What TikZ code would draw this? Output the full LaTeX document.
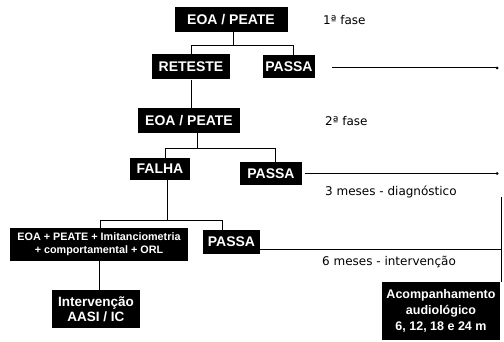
\documentclass[tikz,border=0pt]{standalone}
\usepackage{fontspec}
\setmainfont{Liberation Sans}
\newfontfamily\labelfont{DejaVu Sans}
\begin{document}
\begin{tikzpicture}[x=1pt,y=-1pt,
  box/.style={fill=black, text=white, font=\bfseries\fontsize{14}{15}\selectfont,
              inner sep=0pt, align=center},
  wire/.style={line width=1pt},
  note/.style={anchor=west, inner sep=0pt, font=\labelfont\fontsize{12}{14}\selectfont},
  enddot/.style={circle, fill=black, inner sep=0pt, minimum size=3pt}]
\useasboundingbox (0,0) rectangle (504,342);

% first phase
\node[box, minimum width=113pt, minimum height=25pt] (eoa1) at (231,19.5) {EOA / PEATE};
\node[note] (fase1) at (323,20) {1ª fase};
\node[box, minimum width=78pt, minimum height=25pt] (reteste) at (191,67) {RETESTE};
\node[box, minimum width=52pt, minimum height=23pt] (passa1) at (289,67) {PASSA};
\draw[wire] ([xshift=2pt]eoa1.south) -- ++(0,13) -| (reteste.north);
\draw[wire] ([xshift=2pt]eoa1.south) -- ++(0,13) -| ([xshift=4pt]passa1.north);
\coordinate (end1) at (497,68);
\draw[wire] ([xshift=17pt]passa1.east |- end1) -- (end1);
\node[enddot] (dot1) at (end1) {};

% second phase
\node[box, minimum width=102pt, minimum height=25pt] (eoa2) at (189,120.5) {EOA / PEATE};
\node[note] (fase2) at (325,121) {2ª fase};
\draw[wire] (reteste.south) -- (reteste.south |- eoa2.north);
\node[box, minimum width=60pt, minimum height=22pt] (falha) at (160,169) {FALHA};
\node[box, minimum width=62pt, minimum height=23pt] (passa2) at (271,173.5) {PASSA};
\draw[wire] ([xshift=8pt]eoa2.south) -- ++(0,15) -| ([xshift=5pt]falha.north);
\draw[wire] ([xshift=8pt]eoa2.south) -- ++(0,15) -| ([xshift=4pt]passa2.north);
\coordinate (end2) at (497,173.5);
\draw[wire] ([xshift=3pt]passa2.east) -- (end2);
\node[enddot] (dot2) at (end2) {};
\node[note] (diag) at (325,192) {3 meses - diagnóstico};

% diagnosis and intervention
\node[box, minimum width=178pt, minimum height=33pt,
      font=\bfseries\fontsize{10.8}{13}\selectfont] (exames) at (99,244.5)
      {EOA + PEATE + Imitanciometria\\+ comportamental + ORL};
\node[box, minimum width=57pt, minimum height=24pt] (passa3) at (231.5,242) {PASSA};
\draw[wire] ([xshift=7pt]falha.south) -- ++(0,40) -| ([xshift=1pt]exames.north);
\draw[wire] ([xshift=7pt]falha.south) -- ++(0,40) -| ([xshift=-9pt]passa3.north);
\coordinate (end3) at (501,250);
\draw[wire] (passa3.east |- end3) -- (end3);
\node[note] (interv) at (322,262) {6 meses - intervenção};

\node[box, minimum width=88pt, minimum height=38pt,
      font=\bfseries\fontsize{13.5}{15}\selectfont] (aasi) at (96,309)
      {Intervenção\\AASI / IC};
\draw[wire] (exames.south) -- (exames.south |- aasi.north);

\node[box, minimum width=118pt, minimum height=58pt,
      font=\bfseries\fontsize{12.5}{16}\selectfont] (acomp) at (441,311)
      {Acompanhamento\\audiológico\\6, 12, 18 e 24 m};
\coordinate (vtop) at (501,197);
\draw[wire] (vtop) -- (vtop |- acomp.north);
\end{tikzpicture}
\end{document}
